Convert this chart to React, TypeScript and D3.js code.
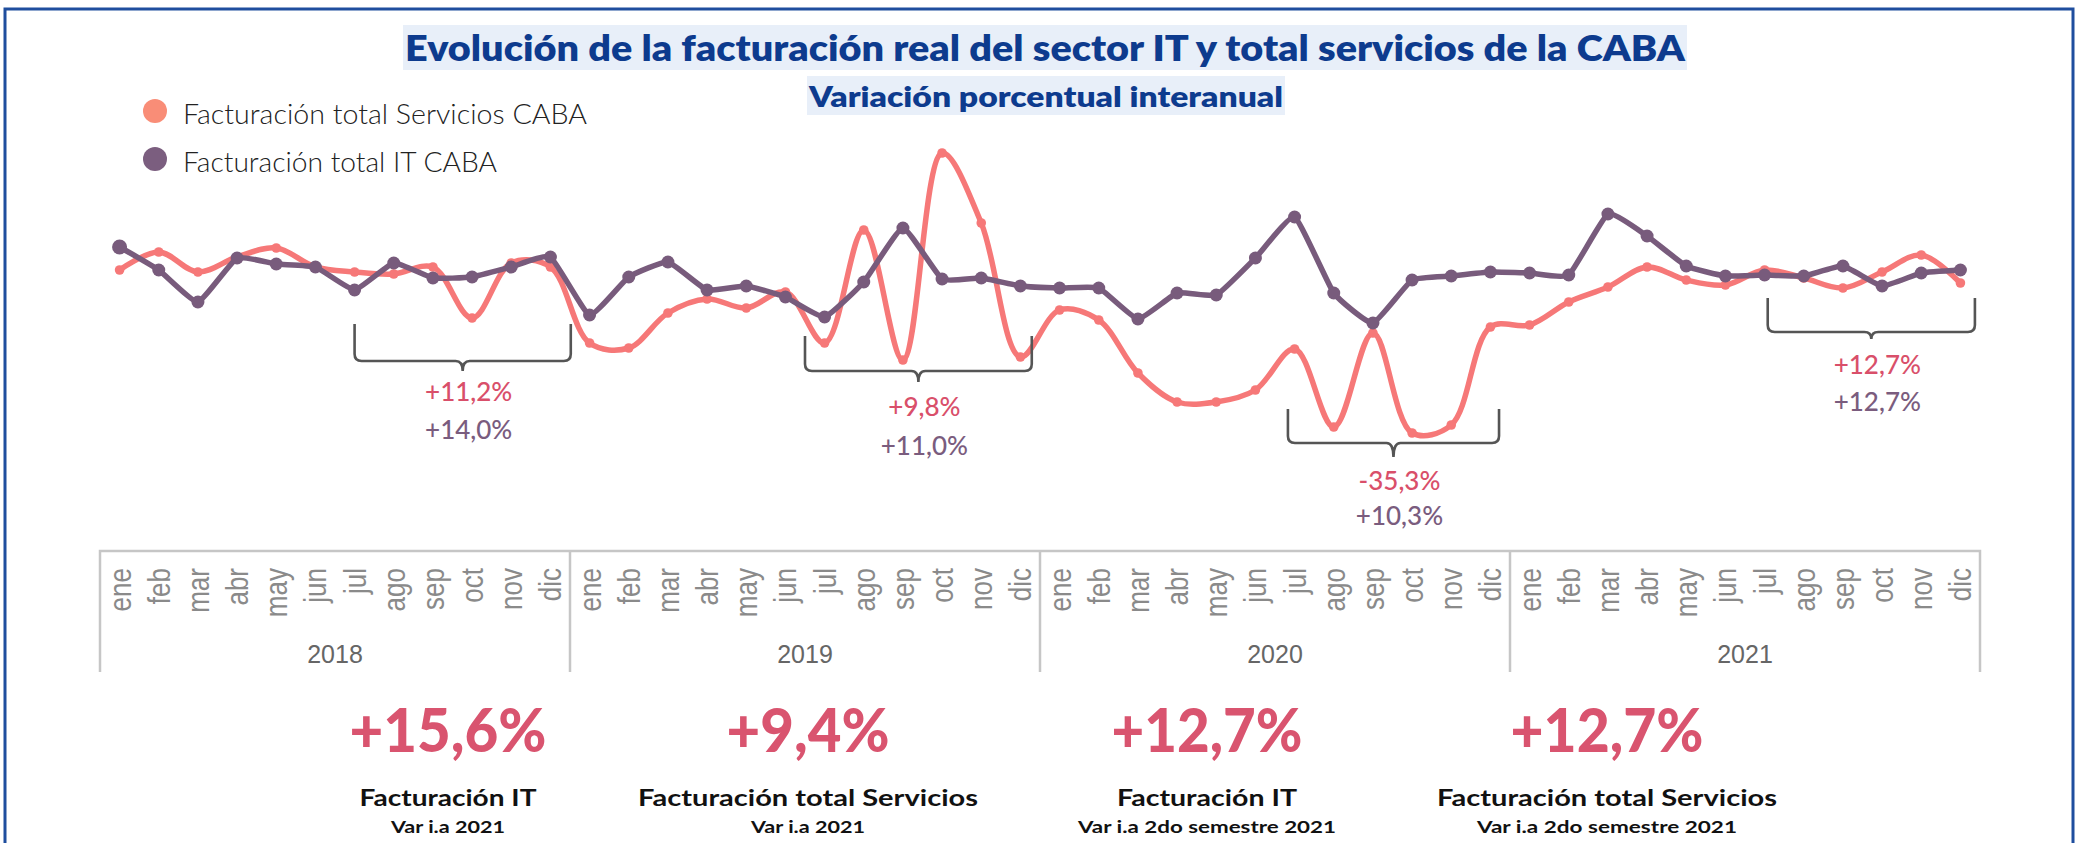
import React from 'react';
import * as d3 from 'd3';

const MONTHS = ['ene', 'feb', 'mar', 'abr', 'may', 'jun', 'jul', 'ago', 'sep', 'oct', 'nov', 'dic'];
const YEARS = ['2018', '2019', '2020', '2021'];

// Variación porcentual interanual (valores aproximados)
const SERVICIOS = [
  5, 9.5, 4.5, 8.25, 10.5, 5.75, 4.5, 4, 5.75, -7, 6.75, 5.75,
  -13.25, -14.5, -5.75, -2.25, -4.5, -0.5, -13.25, 15, -17.5, 34.25, 16.75, -16.75,
  -5, -7.5, -20.75, -28, -28, -25, -14.75, -34.25, -10.75, -35.75, -33.75, -9.25,
  -8.75, -3, 0.75, 5.75, 2.5, 1.25, 5, 3, 0.5, 4.5, 8.75, 1.75,
];
const IT = [
  10.75, 5, -3, 8, 6.5, 5.75, 0, 6.75, 3, 3.25, 5.75, 8.25,
  -6.25, 3.25, 7, 0, 1, -1.75, -6.75, 2, 15.5, 2.75, 3, 1,
  0.5, 0.5, -7.25, -0.75, -1.25, 8, 18.25, -0.75, -8.25, 2.5, 3.5, 4.5,
  4.25, 3.75, 19, 13.5, 6, 3.5, 3.75, 3.5, 6, 1, 4.25, 5,
];
const SERIES_NAMES = ['Facturación total Servicios CABA', 'Facturación total IT CABA'];

const BRACKET_FROM = [6.0, 17.5, 29.83, 42.08];
const BRACKET_TO = [11.52, 23.29, 35.22, 47.37];
const BRACKET_SERVICIOS = ['+11,2%', '+9,8%', '-35,3%', '+12,7%'];
const BRACKET_IT = ['+14,0%', '+11,0%', '+10,3%', '+12,7%'];

const KPI_VALUES = ['+15,6%', '+9,4%', '+12,7%', '+12,7%'];
const KPI_TITLES = ['Facturación IT', 'Facturación total Servicios', 'Facturación IT', 'Facturación total Servicios'];
const KPI_SUBTITLES = ['Var i.a 2021', 'Var i.a 2021', 'Var i.a 2do semestre 2021', 'Var i.a 2do semestre 2021'];

const TITLE = 'Evolución de la facturación real del sector IT y total servicios de la CABA';
const SUBTITLE = 'Variación porcentual interanual';

// layout
const W = 2083;
const H = 843;
const PINK = '#f67878';
const PURPLE = '#785b7c';
const LABEL_PINK = '#d94f6a';
const LABEL_PURPLE = '#7a5c7e';
const BRACKET_Y = [
  { top: 324, h: 361, tick: 371, l1: 401, l2: 439 },
  { top: 336, h: 371, tick: 382, l1: 416, l2: 455 },
  { top: 409, h: 443, tick: 457, l1: 490, l2: 525 },
  { top: 298, h: 332, tick: 339, l1: 374, l2: 411 },
];
const KPI_X = [448, 808, 1207, 1607];
const KPI_W = [197, 163, 191, 193];
const KPI_TW = [177, 340, 180, 340];
const KPI_SW = [114, 114, 258, 260];

const BODY_FONT = 'Lato, "Open Sans", sans-serif';
const AXIS_FONT = '"Liberation Sans", Arial, sans-serif';

export default function App() {
  const n = SERVICIOS.length;
  const x = d3.scaleLinear().domain([-0.5, n - 0.5]).range([100, 1980]);
  const y = d3.scaleLinear().domain([-50, 50]).range([490, 90]);

  const pinkLine = d3
    .line<number>()
    .x((_, i) => x(i))
    .y((d) => y(d))
    .curve(d3.curveCatmullRom.alpha(0.5));
  const purpleLine = d3
    .line<number>()
    .x((_, i) => x(i))
    .y((d) => y(d))
    .curve(d3.curveCardinal.tension(0.6));

  const yearW = (x(n - 0.5) - x(-0.5)) / YEARS.length;
  const boxTop = 551;
  const boxBottom = 672;
  const dividers = d3.range(YEARS.length + 1).map((k) => x(-0.5) + k * yearW);

  const bracketPath = (xl: number, xr: number, b: { top: number; h: number; tick: number }) => {
    const r = 7;
    const xc = (xl + xr) / 2;
    return [
      `M${xl},${b.top}`,
      `V${b.h - r}`,
      `Q${xl},${b.h} ${xl + r},${b.h}`,
      `H${xc - 7}`,
      `Q${xc},${b.h} ${xc},${b.tick}`,
      `Q${xc},${b.h} ${xc + 7},${b.h}`,
      `H${xr - r}`,
      `Q${xr},${b.h} ${xr},${b.h - r}`,
      `V${b.top}`,
    ].join(' ');
  };

  return (
    <svg
      width={W}
      height={H}
      viewBox={`0 0 ${W} ${H}`}
      style={{ position: 'absolute', left: 0, top: 0, display: 'block', background: '#fff' }}
    >
      <rect x={0} y={0} width={W} height={H} fill="#fff" />
      {/* frame */}
      <rect x={5} y={9} width={2068} height={900} fill="none" stroke="#1f4e9e" strokeWidth={3} />

      {/* title */}
      <rect x={403} y={25} width={1284} height={45} fill="#e8eff9" />
      <text
        x={1045}
        y={61}
        textAnchor="middle"
        fontFamily={BODY_FONT}
        fontWeight={800}
        fontSize={36}
        fill="#0d3b8e"
        textLength={1280}
        lengthAdjust="spacingAndGlyphs"
      >
        {TITLE}
      </text>
      <rect x={807} y={76} width={478} height={39} fill="#e8eff9" />
      <text
        x={1046}
        y={107}
        textAnchor="middle"
        fontFamily={BODY_FONT}
        fontWeight={800}
        fontSize={29}
        fill="#0d3b8e"
        textLength={474}
        lengthAdjust="spacingAndGlyphs"
      >
        {SUBTITLE}
      </text>

      {/* legend */}
      {SERIES_NAMES.map((name, i) => (
        <g key={name}>
          <circle cx={155} cy={111 + i * 48} r={12} fill={i === 0 ? '#f98d77' : '#7b5e7f'} />
          <text
            x={183}
            y={124 + i * 48}
            fontFamily={BODY_FONT}
            fontWeight={300}
            fontSize={27}
            fill="#222"
            textLength={i === 0 ? 404 : 314}
            lengthAdjust="spacingAndGlyphs"
          >
            {name}
          </text>
        </g>
      ))}

      {/* series */}
      <path d={pinkLine(SERVICIOS) || ''} fill="none" stroke={PINK} strokeWidth={5.5} strokeLinejoin="round" />
      {SERVICIOS.map((v, i) => (
        <circle key={`s${i}`} cx={x(i)} cy={y(v)} r={4.8} fill={PINK} />
      ))}
      <path d={purpleLine(IT) || ''} fill="none" stroke={PURPLE} strokeWidth={5.5} strokeLinejoin="round" />
      {IT.map((v, i) => (
        <circle key={`i${i}`} cx={x(i)} cy={y(v)} r={i === 0 ? 7.5 : 6.5} fill={PURPLE} />
      ))}

      {/* brackets and annotations */}
      {BRACKET_FROM.map((from, k) => {
        const xl = x(from);
        const xr = x(BRACKET_TO[k]);
        const b = BRACKET_Y[k];
        const xc = (xl + xr) / 2 + 6;
        return (
          <g key={`b${k}`}>
            <path d={bracketPath(xl, xr, b)} fill="none" stroke="#555" strokeWidth={2.6} />
            <text x={xc} y={b.l1} textAnchor="middle" fontFamily={BODY_FONT} fontWeight={500} fontSize={26} fill={LABEL_PINK}>
              {BRACKET_SERVICIOS[k]}
            </text>
            <text x={xc} y={b.l2} textAnchor="middle" fontFamily={BODY_FONT} fontWeight={500} fontSize={26} fill={LABEL_PURPLE}>
              {BRACKET_IT[k]}
            </text>
          </g>
        );
      })}

      {/* axis box */}
      <path d={`M${dividers[0]},${boxBottom} V${boxTop} H${dividers[dividers.length - 1]} V${boxBottom}`} fill="none" stroke="#c6c6c6" strokeWidth={2.5} />
      {dividers.slice(1, -1).map((dx, k) => (
        <line key={`d${k}`} x1={dx} x2={dx} y1={boxTop} y2={boxBottom} stroke="#c6c6c6" strokeWidth={2.5} />
      ))}
      {SERVICIOS.map((_, i) => (
        <text
          key={`m${i}`}
          transform={`translate(${x(i)},568) rotate(-90) scale(1,1.22)`}
          textAnchor="end"
          dominantBaseline="central"
          fontFamily={AXIS_FONT}
          fontSize={26}
          fill="#8a8a8a"
        >
          {MONTHS[i % 12]}
        </text>
      ))}
      {YEARS.map((yr, k) => (
        <text
          key={yr}
          x={dividers[k] + yearW / 2}
          y={663}
          textAnchor="middle"
          fontFamily={AXIS_FONT}
          fontSize={25}
          fill="#666"
        >
          {yr}
        </text>
      ))}

      {/* KPIs */}
      {KPI_VALUES.map((val, k) => (
        <g key={`k${k}`}>
          <text
            x={KPI_X[k]}
            y={752}
            textAnchor="middle"
            fontFamily={BODY_FONT}
            fontWeight={900}
            fontSize={60}
            fill="#d9546f"
            textLength={KPI_W[k]}
            lengthAdjust="spacingAndGlyphs"
          >
            {val}
          </text>
          <text
            x={KPI_X[k]}
            y={806}
            textAnchor="middle"
            fontFamily={BODY_FONT}
            fontWeight={700}
            fontSize={23}
            fill="#111"
            textLength={KPI_TW[k]}
            lengthAdjust="spacingAndGlyphs"
          >
            {KPI_TITLES[k]}
          </text>
          <text
            x={KPI_X[k]}
            y={833}
            textAnchor="middle"
            fontFamily={BODY_FONT}
            fontWeight={700}
            fontSize={17}
            fill="#111"
            textLength={KPI_SW[k]}
            lengthAdjust="spacingAndGlyphs"
          >
            {KPI_SUBTITLES[k]}
          </text>
        </g>
      ))}
    </svg>
  );
}
